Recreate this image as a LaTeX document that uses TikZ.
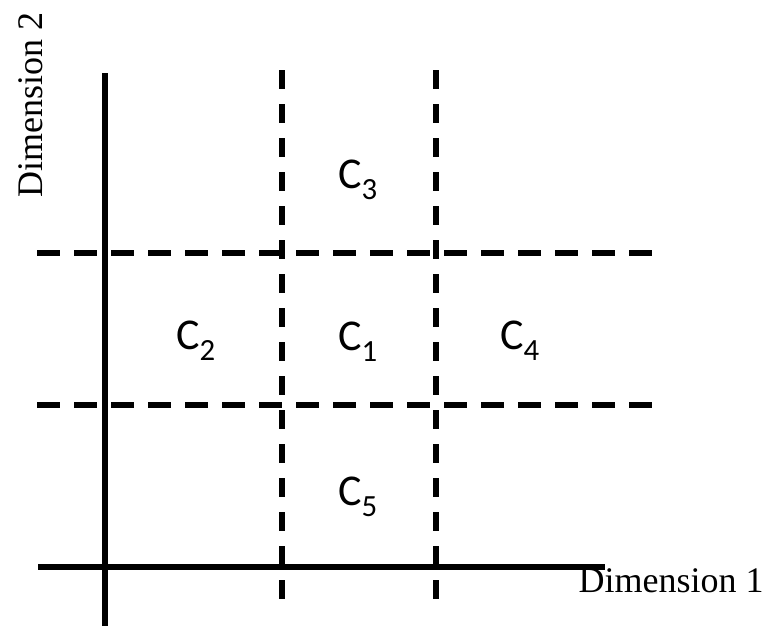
\documentclass[tikz,border=0pt]{standalone}
\usepackage{fontspec}
\setmainfont{Liberation Serif}
\newfontfamily\labfont{Carlito}
\begin{document}
\begin{tikzpicture}[x=1pt,y=-1pt,
  axisline/.style={line width=5.5pt},
  hdash/.style={line width=5.5pt, dash pattern=on 23pt off 14pt},
  vdash/.style={line width=5.5pt, dash pattern=on 19pt off 15pt},
  clab/.style={font=\labfont\fontsize{44}{50}\selectfont, inner sep=0pt},
  dimlab/.style={font=\fontsize{36}{42}\selectfont, inner sep=0pt}]
\useasboundingbox (0,0) rectangle (775,626);
% dashed grid
\coordinate (h1a) at (37,253); \coordinate (h1b) at (652,253);
\coordinate (h2a) at (37,405); \coordinate (h2b) at (652,405);
\coordinate (v1a) at (282,70); \coordinate (v1b) at (282,612);
\coordinate (v2a) at (436,70); \coordinate (v2b) at (436,612);
\draw[hdash] (h1a) -- (h1b);
\draw[hdash] (h2a) -- (h2b);
\draw[vdash] (v1a) -- (v1b);
\draw[vdash] (v2a) -- (v2b);
% axes
\coordinate (ya) at (105,73); \coordinate (yb) at (105,626);
\coordinate (xa) at (38,567); \coordinate (xb) at (605,567);
\draw[axisline] (ya) -- (yb);
\draw[axisline] (xa) -- (xb);
% labels
\node[clab] (c3) at (358,180) {C\textsubscript{3}};
\node[clab] (c2) at (196,341) {C\textsubscript{2}};
\node[clab] (c1) at (358,342) {C\textsubscript{1}};
\node[clab] (c4) at (520,341) {C\textsubscript{4}};
\node[clab] (c5) at (358,497) {C\textsubscript{5}};
\node[dimlab] (d1) at (671,581) {Dimension 1};
\node[dimlab, rotate=90] (d2) at (31,105) {Dimension 2};
\end{tikzpicture}
\end{document}
